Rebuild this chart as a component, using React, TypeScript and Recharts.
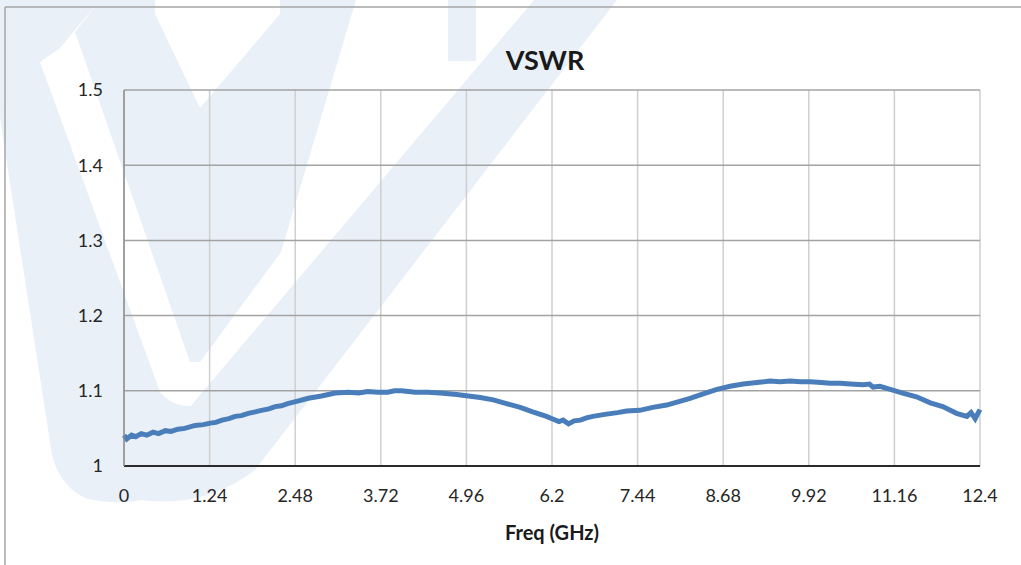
import { LineChart, Line, XAxis, YAxis, CartesianGrid } from 'recharts';

const FREQ = [
    0, 0.04, 0.11, 0.17, 0.25, 0.33, 0.42, 0.5, 0.6, 0.68, 0.78, 0.88, 1.03, 1.15, 1.25,
    1.33, 1.42, 1.52, 1.61, 1.7, 1.8, 1.9, 1.99, 2.1, 2.19, 2.28, 2.37, 2.5, 2.67, 2.86,
    3.06, 3.25, 3.4, 3.53, 3.68, 3.82, 3.92, 4.02, 4.12, 4.22, 4.4, 4.58, 4.82, 4.96,
    5.16, 5.35, 5.54, 5.74, 5.92, 6.12, 6.21, 6.3, 6.36, 6.44, 6.52, 6.61, 6.7, 6.79,
    6.99, 7.15, 7.28, 7.47, 7.66, 7.86, 8.05, 8.2, 8.39, 8.59, 8.78, 8.97, 9.17, 9.36,
    9.5, 9.65, 9.8, 9.94, 10.1, 10.23, 10.38, 10.52, 10.71, 10.8, 10.85, 10.95, 11.1,
    11.28, 11.48, 11.68, 11.86, 12.06, 12.21, 12.27, 12.33, 12.37, 12.4,
];
const VSWR = [
    1.041, 1.036, 1.041, 1.039, 1.043, 1.041, 1.045, 1.043, 1.047, 1.046, 1.049, 1.05, 1.054, 1.055, 1.057,
    1.058, 1.061, 1.063, 1.066, 1.067, 1.07, 1.072, 1.074, 1.076, 1.079, 1.08, 1.083, 1.086, 1.09, 1.093,
    1.097, 1.098, 1.097, 1.099, 1.098, 1.098, 1.1, 1.1, 1.099, 1.098, 1.098, 1.097, 1.095, 1.0935,
    1.091, 1.088, 1.083, 1.078, 1.072, 1.066, 1.0625, 1.059, 1.061, 1.056, 1.06, 1.061, 1.064, 1.066,
    1.069, 1.071, 1.073, 1.074, 1.078, 1.081, 1.086, 1.09, 1.096, 1.102, 1.106, 1.109, 1.111, 1.113,
    1.112, 1.113, 1.112, 1.112, 1.111, 1.11, 1.11, 1.109, 1.108, 1.109, 1.105, 1.106, 1.102,
    1.097, 1.092, 1.084, 1.079, 1.07, 1.066, 1.071, 1.063, 1.07, 1.075,
];
const X_TICKS = [0, 1.24, 2.48, 3.72, 4.96, 6.2, 7.44, 8.68, 9.92, 11.16, 12.4];
const Y_TICKS = [1, 1.1, 1.2, 1.3, 1.4, 1.5];

const data = FREQ.map((f, i) => ({ freq: f, vswr: VSWR[i] }));

const FONT = 'Lato, "Open Sans", sans-serif';
const WATERMARK = '#e9f0f8';

export default function App() {
    return (
        <div style={{ position: 'absolute', left: 0, top: 0, width: 1021, height: 565, background: '#fff', overflow: 'hidden' }}>
            {/* faint logo behind the chart */}
            <svg width={1021} height={565} style={{ position: 'absolute', left: 0, top: 0 }}>
                <path d="M0,0 L100,0 L60,48 L40,62 L0,118 Z" fill={WATERMARK} />
                <path d="M0,118 L40,62 L160,392 Q175,410 200,405 L215,465 Q150,515 85,498 Q60,486 52,455 Z" fill={WATERMARK} />
                <path d="M75,32 L100,0 L155,0 L155,14 L200,108 L280,14 L280,0 L356,0 L281,252 L200,362 L190,362 Z" fill={WATERMARK} />
                <path d="M534,0 L617,0 L255,470 Q200,512 130,498 L162,440 Z" fill={WATERMARK} />
                <path d="M448,0 L476,0 L476,61 L448,61 Z" fill={WATERMARK} />
                <line x1={5} y1={7} x2={5} y2={565} stroke="#a6a6a6" strokeWidth={1.5} />
                <line x1={5} y1={7} x2={1021} y2={7} stroke="#a6a6a6" strokeWidth={1.5} />
            </svg>

            <div
                style={{
                    position: 'absolute', left: 0, top: 46, width: 1090, textAlign: 'center',
                    fontFamily: FONT, fontWeight: 700, fontSize: 27, color: '#1a1a1a', lineHeight: '28px',
                }}
            >
                VSWR
            </div>

            <div style={{ position: 'absolute', left: 0, top: 0 }}>
                <LineChart
                    width={1021}
                    height={565}
                    data={data}
                    margin={{ top: 90, right: 41, bottom: 25, left: 64 }}
                >
                    <CartesianGrid horizontal={false} stroke="#cfcfcf" strokeWidth={1.5} verticalValues={X_TICKS} />
                    <CartesianGrid vertical={false} stroke="#a3a3a3" strokeWidth={1.5} horizontalValues={Y_TICKS} />
                    <XAxis
                        dataKey="freq"
                        type="number"
                        domain={[0, 12.4]}
                        ticks={X_TICKS}
                        tickFormatter={(v) => String(v)}
                        tickLine={false}
                        tickSize={0}
                        tickMargin={23}
                        height={74}
                        stroke="#2b2b2b"
                        strokeWidth={2}
                        tick={{ fontSize: 18, fill: '#262626', fontFamily: FONT }}
                        label={{
                            value: 'Freq (GHz)',
                            position: 'insideBottom',
                            offset: 0,
                            style: { fontSize: 20, fontWeight: 700, fill: '#1a1a1a', fontFamily: FONT },
                        }}
                    />
                    <YAxis
                        type="number"
                        domain={[1, 1.5]}
                        ticks={Y_TICKS}
                        tickFormatter={(v) => String(v)}
                        tickLine={false}
                        tickSize={0}
                        tickMargin={21}
                        width={60}
                        stroke="#8c8c8c"
                        strokeWidth={1.5}
                        tick={{ fontSize: 18, fill: '#262626', fontFamily: FONT }}
                    />
                    <Line
                        type="linear"
                        dataKey="vswr"
                        stroke="#4a7ebb"
                        strokeWidth={5}
                        dot={false}
                        isAnimationActive={false}
                    />
                </LineChart>
            </div>
        </div>
    );
}
